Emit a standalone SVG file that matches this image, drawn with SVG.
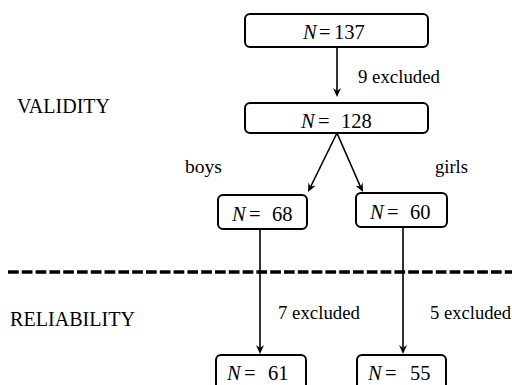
<svg xmlns="http://www.w3.org/2000/svg" width="512" height="385" viewBox="0 0 512 385">
<rect width="512" height="385" fill="#fff"/>
<line x1="8" y1="272" x2="512" y2="272" stroke="#000" stroke-width="3.5" stroke-dasharray="10.7 3.1"/>
<text x="17" y="113" font-family="Liberation Serif" font-size="21" textLength="93" lengthAdjust="spacingAndGlyphs">VALIDITY</text>
<text x="10" y="326" font-family="Liberation Serif" font-size="21" textLength="125" lengthAdjust="spacingAndGlyphs">RELIABILITY</text>
<g id="connectors">
<g stroke="#000" stroke-width="1.6" fill="none">
<line x1="337" y1="47" x2="337" y2="92"/>
<line x1="337" y1="133" x2="310" y2="188"/>
<line x1="337" y1="133" x2="361" y2="188"/>
<line x1="260" y1="229" x2="260" y2="349"/>
<line x1="403" y1="227" x2="403" y2="349"/>
</g>
<g fill="#000">
<path d="M337,97 L333,88 L337,91 L341,88 Z"/>
<path d="M308,192 L308.4,182.2 L310.3,186.6 L315.6,185.7 Z"/>
<path d="M363,192 L355.6,185.7 L360.8,186.6 L362.6,182.2 Z"/>
<path d="M260,354 L256,345 L260,348 L264,345 Z"/>
<path d="M403,354 L399,345 L403,348 L407,345 Z"/>
</g>
<text x="358" y="83" font-family="Liberation Serif" font-size="18" textLength="82" lengthAdjust="spacingAndGlyphs">9 excluded</text>
<text x="185" y="173" font-family="Liberation Serif" font-size="18" textLength="37" lengthAdjust="spacingAndGlyphs">boys</text>
<text x="435" y="173" font-family="Liberation Serif" font-size="18" textLength="33" lengthAdjust="spacingAndGlyphs">girls</text>
<text x="278" y="319" font-family="Liberation Serif" font-size="18" textLength="82" lengthAdjust="spacingAndGlyphs">7 excluded</text>
<text x="430" y="319" font-family="Liberation Serif" font-size="18" textLength="81" lengthAdjust="spacingAndGlyphs">5 excluded</text>
</g>
<g id="n137">
<rect x="245" y="14" width="183" height="33" rx="5" fill="#fff" stroke="#000" stroke-width="2"/>
<text x="303" y="39" font-family="Liberation Serif" font-size="20.5"><tspan font-style="italic">N</tspan><tspan x="319">=</tspan><tspan x="334">137</tspan></text>
</g>
<g id="n128">
<rect x="245" y="103" width="183" height="30" rx="5" fill="#fff" stroke="#000" stroke-width="2"/>
<text x="301" y="128" font-family="Liberation Serif" font-size="20.5"><tspan font-style="italic">N</tspan><tspan x="318">=</tspan><tspan x="341">128</tspan></text>
</g>
<g id="n68">
<rect x="218" y="195" width="89" height="34" rx="5" fill="#fff" stroke="#000" stroke-width="2"/>
<text x="232" y="221" font-family="Liberation Serif" font-size="20.5"><tspan font-style="italic">N</tspan><tspan x="249">=</tspan><tspan x="272">68</tspan></text>
</g>
<g id="n60">
<rect x="356" y="193" width="91" height="34" rx="5" fill="#fff" stroke="#000" stroke-width="2"/>
<text x="370" y="219" font-family="Liberation Serif" font-size="20.5"><tspan font-style="italic">N</tspan><tspan x="387">=</tspan><tspan x="410">60</tspan></text>
</g>
<g id="n61">
<rect x="216" y="355" width="90" height="40" rx="5" fill="#fff" stroke="#000" stroke-width="2"/>
<text x="227" y="380" font-family="Liberation Serif" font-size="20.5"><tspan font-style="italic">N</tspan><tspan x="244">=</tspan><tspan x="268">61</tspan></text>
</g>
<g id="n55">
<rect x="357" y="355" width="89" height="40" rx="5" fill="#fff" stroke="#000" stroke-width="2"/>
<text x="368" y="380" font-family="Liberation Serif" font-size="20.5"><tspan font-style="italic">N</tspan><tspan x="385">=</tspan><tspan x="410">55</tspan></text>
</g>
</svg>
